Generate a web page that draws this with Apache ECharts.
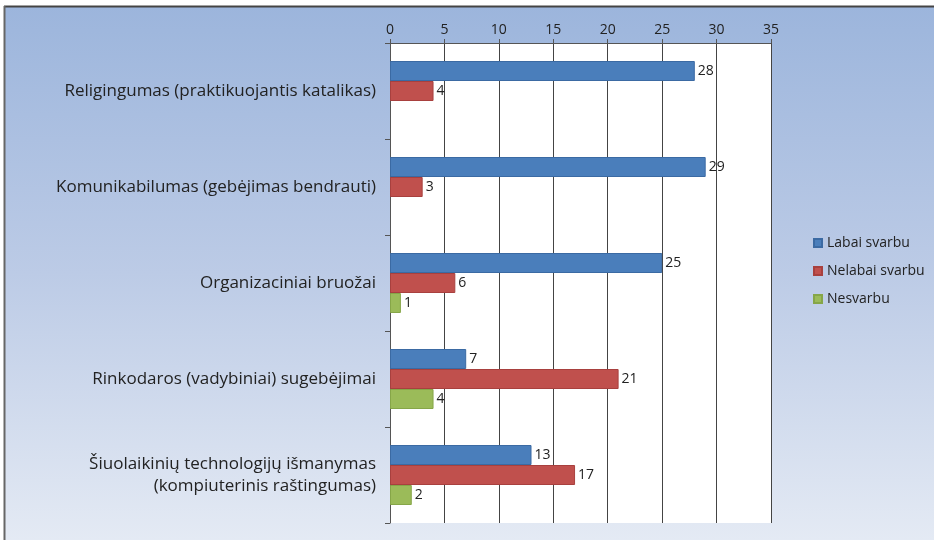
<!DOCTYPE html>
<html><head><meta charset="utf-8">
<script src="https://cdn.jsdelivr.net/npm/echarts@6/dist/echarts.min.js"></script>
<style>html,body{margin:0;padding:0;background:#fff}#c{width:934px;height:540px}</style>
</head><body><div id="c"></div>
<script>
const categories = [
  "Religingumas (praktikuojantis katalikas)",
  "Komunikabilumas (gebėjimas bendrauti)",
  "Organizaciniai bruožai",
  "Rinkodaros (vadybiniai) sugebėjimai",
  "Šiuolaikinių technologijų išmanymas\n(kompiuterinis raštingumas)"
];
const seriesNames = ["Labai svarbu", "Nelabai svarbu", "Nesvarbu"];
const labai = [28, 29, 25, 7, 13];
const nelabai = [4, 3, 6, 21, 17];
const nesvarbu = [null, null, 1, 4, 2];
const xTicks = [0, 5, 10, 15, 20, 25, 30, 35];

const FONT = '"Open Sans", "DejaVu Sans", sans-serif';
const colors = ["#4a7ebb", "#c0504d", "#9bbb59"];
const borders = ["#3b6aa3", "#a8403e", "#86a648"];
const vals = [labai, nelabai, nesvarbu];

const chart = echarts.init(document.getElementById('c'), null, {renderer: 'canvas'});
chart.setOption({
  animation: false,
  textStyle: {fontFamily: FONT},
  graphic: [
    {type: 'rect', z: -10, shape: {x: 4, y: 6, width: 930, height: 534},
     style: {fill: {type: 'linear', x: 0, y: 0, x2: 0, y2: 1,
       colorStops: [{offset: 0, color: '#9cb5dc'}, {offset: 0.5, color: '#bccbe6'}, {offset: 1, color: '#e4eaf4'}]}}},
    {type: 'line', z: -5, shape: {x1: 4, y1: 6.5, x2: 934, y2: 6.5}, style: {stroke: '#444', lineWidth: 2}},
    {type: 'line', z: -5, shape: {x1: 4.5, y1: 6, x2: 4.5, y2: 540}, style: {stroke: '#666', lineWidth: 2}}
  ],
  grid: {left: 390, right: 163, top: 43, bottom: 17, backgroundColor: '#fff', show: true, borderWidth: 0},
  legend: {
    orient: 'vertical', left: 808, top: 231, itemGap: 14,
    itemWidth: 8, itemHeight: 8, icon: 'rect',
    textStyle: {fontSize: 14, color: '#222', fontFamily: FONT},
    data: seriesNames
  },
  xAxis: {
    type: 'value', position: 'top', min: 0, max: 35, interval: 5,
    axisLine: {show: true, lineStyle: {color: '#555', width: 1}},
    axisTick: {show: true, length: 4, lineStyle: {color: '#555'}},
    axisLabel: {color: '#222', fontSize: 14, margin: 6, fontFamily: FONT,
      formatter: v => xTicks.includes(v) ? String(v) : ''},
    splitLine: {show: true, lineStyle: {color: '#444', width: 1}}
  },
  yAxis: {
    type: 'category', inverse: true, data: categories,
    axisLine: {show: true, lineStyle: {color: '#555'}},
    axisTick: {show: true, length: 5, lineStyle: {color: '#555'}},
    axisLabel: {color: '#222', fontSize: 17, margin: 14, align: 'right', lineHeight: 22, fontFamily: FONT}
  },
  series: seriesNames.map((n, i) => ({
    name: n, type: 'bar', data: vals[i],
    barGap: '0%', barCategoryGap: '37.5%',
    itemStyle: {color: colors[i], borderColor: borders[i], borderWidth: 1},
    label: {show: true, position: 'right', distance: 3, color: '#222', fontSize: 14, fontFamily: FONT}
  }))
});
</script></body></html>
